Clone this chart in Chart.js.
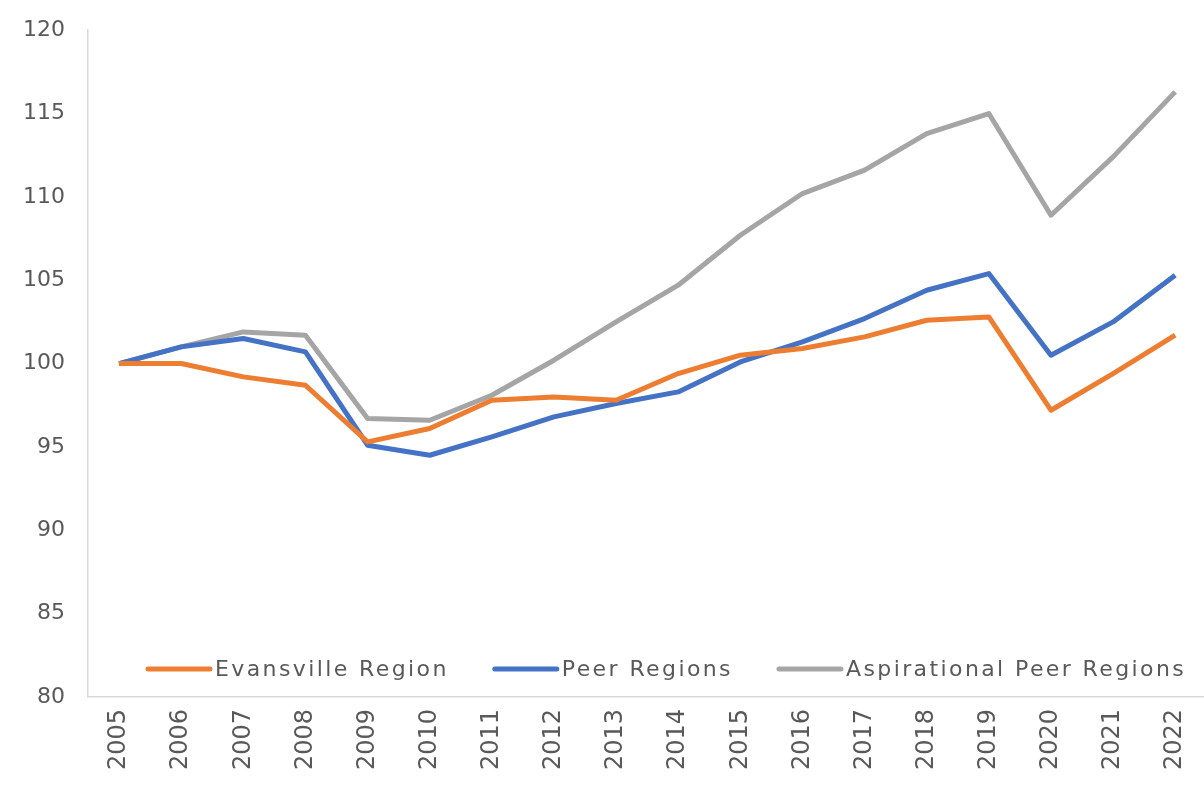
<!DOCTYPE html>
<html>
<head>
<meta charset="utf-8">
<script src="https://cdn.jsdelivr.net/npm/chart.js@4"></script>
<style>
  html, body { margin: 0; padding: 0; background: #fff; overflow: hidden; }
  #wrap { position: relative; width: 1204px; height: 786px; overflow: hidden; }
  #chart { position: absolute; left: 0; top: -6px; }
</style>
</head>
<body>
<div id="wrap"><canvas id="chart" width="1216" height="792"></canvas></div>
<script>
const years = ['2005', '2006', '2007', '2008', '2009', '2010', '2011', '2012', '2013',
    '2014', '2015', '2016', '2017', '2018', '2019', '2020', '2021', '2022'];
const evansville = [100.0, 100.0, 99.2, 98.7, 95.3, 96.1, 97.8, 98.0, 97.8,
    99.4, 100.5, 100.9, 101.6, 102.6, 102.8, 97.2, 99.4, 101.7];
const peers = [100.0, 101.0, 101.5, 100.7, 95.1, 94.5, 95.6, 96.8, 97.6,
    98.3, 100.1, 101.3, 102.7, 104.4, 105.4, 100.5, 102.5, 105.3];
const aspirational = [100.0, 101.0, 101.9, 101.7, 96.7, 96.6, 98.1, 100.2, 102.5,
    104.7, 107.7, 110.2, 111.6, 113.8, 115.0, 108.9, 112.4, 116.3];
const seriesNames = ['Evansville Region', 'Peer Regions', 'Aspirational Peer Regions'];

const textColor = '#595959';
const axisColor = '#D9D9D9';
const fontFamily = '"DejaVu Sans", sans-serif';

// legend drawn inside the plot area, along the bottom
const insideLegend = {
    id: 'insideLegend',
    afterDatasetsDraw(chart) {
        const ctx = chart.ctx;
        const area = chart.chartArea;
        const y = area.bottom - 28;
        let x = area.left + 60;
        ctx.save();
        ctx.font = '22px ' + fontFamily;
        ctx.letterSpacing = '2.4px';
        ctx.textBaseline = 'middle';
        ctx.fillStyle = textColor;
        chart.data.datasets.forEach(ds => {
            ctx.strokeStyle = ds.borderColor;
            ctx.lineWidth = 5;
            ctx.lineCap = 'round';
            ctx.beginPath();
            ctx.moveTo(x, y);
            ctx.lineTo(x + 62, y);
            ctx.stroke();
            x += 67;
            ctx.fillText(ds.label, x, y + 1);
            x += ctx.measureText(ds.label).width + 46;
        });
        ctx.restore();
    }
};

const ctx = document.getElementById('chart').getContext('2d');
new Chart(ctx, {
    type: 'line',
    data: {
        labels: years,
        datasets: [
            { label: seriesNames[0], data: evansville, borderColor: '#ED7D31' },
            { label: seriesNames[1], data: peers, borderColor: '#4472C4' },
            { label: seriesNames[2], data: aspirational, borderColor: '#A5A5A5' }
        ]
    },
    options: {
        responsive: false,
        animation: false,
        layout: { padding: { left: 0, top: 6, right: 0, bottom: 4 } },
        elements: {
            line: { borderWidth: 5, tension: 0, borderJoinStyle: 'round' },
            point: { radius: 0 }
        },
        plugins: {
            legend: { display: false },
            tooltip: { enabled: false }
        },
        scales: {
            x: {
                offset: true,
                grid: { display: false, drawTicks: false },
                border: { display: true, color: axisColor, width: 1.5 },
                ticks: {
                    color: textColor,
                    font: { family: fontFamily, size: 24 },
                    minRotation: 90,
                    maxRotation: 90,
                    padding: 12,
                    autoSkip: false
                }
            },
            y: {
                min: 80,
                max: 120,
                grid: { display: false, drawTicks: false },
                border: { display: true, color: axisColor, width: 1.5 },
                ticks: {
                    stepSize: 5,
                    color: textColor,
                    font: { family: fontFamily, size: 22 },
                    padding: 23
                }
            }
        }
    },
    plugins: [insideLegend]
});
</script>
</body>
</html>
